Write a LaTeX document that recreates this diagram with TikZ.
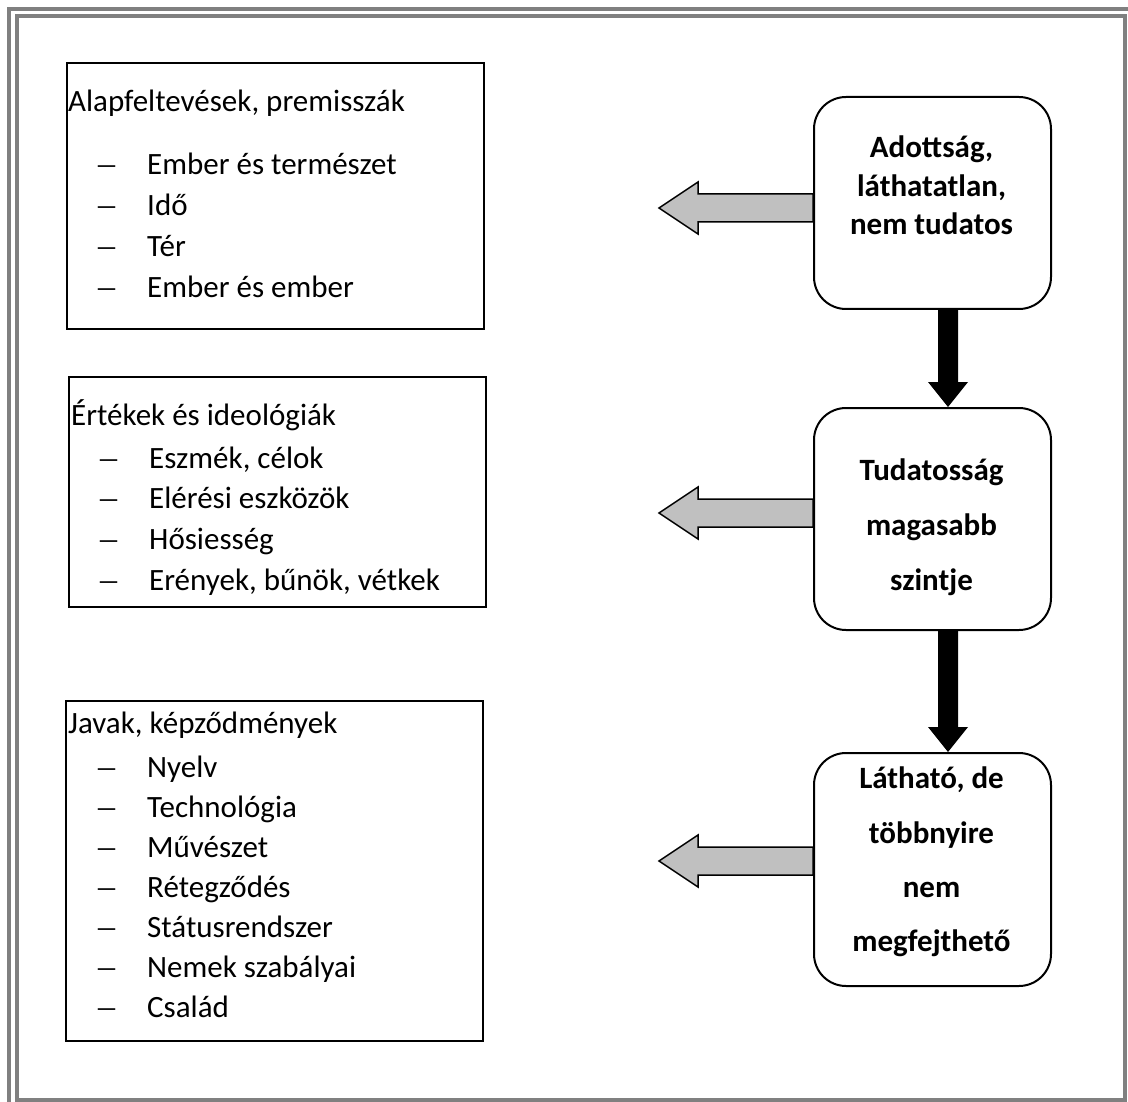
\documentclass[tikz,border=0pt]{standalone}
\usepackage{fontspec}
\setmainfont{Carlito}
\newfontfamily\dashfont{Liberation Serif}
\usetikzlibrary{calc}
\definecolor{framegray}{RGB}{128,128,128}
\definecolor{arrowgray}{RGB}{192,192,192}
\begin{document}
\begin{tikzpicture}[x=1pt,y=-1pt,
  borderline/.style={draw=framegray, line width=4pt},
  listbox/.style={draw, line width=1.6pt, rectangle, anchor=north west, inner sep=0pt, minimum width=417pt},
  levelbox/.style={draw, line width=2pt, rectangle, rounded corners=32pt, anchor=north west, inner sep=0pt, minimum width=237pt},
  head/.style={anchor=base west, inner sep=0pt, font=\fontsize{31}{38}\selectfont},
  item/.style={anchor=base west, inner sep=0pt, font=\fontsize{31}{38}\selectfont},
  bar/.style={anchor=base west, inner sep=0pt, font=\dashfont\fontsize{34}{38}\selectfont},
  btxt/.style={anchor=base, inner sep=0pt, font=\fontsize{31}{38}\selectfont\bfseries},
  hollow/.style={draw, fill=arrowgray, line width=1.5pt, line join=miter},
  downarrow/.style={fill=black}
]
\useasboundingbox (0,0) rectangle (1128,1102);

% double page frame (outer line runs off the right and bottom edges)
\begin{scope}
  \clip (0,0) rectangle (1128,1102);
  \draw[borderline] (8.7,1120) -- (8.7,9) -- (1140,9);
  \draw[borderline] (17,16) rectangle (1124.5,1100);
\end{scope}

% left-hand boxes
\node[listbox, minimum height=266pt] (L1) at (66,62) {};
\node[listbox, minimum height=230pt] (L2) at (68,376) {};
\node[listbox, minimum height=340pt] (L3) at (65,700) {};

% right-hand level boxes
\node[levelbox, minimum height=212pt] (A) at (813,96) {};
\node[levelbox, minimum height=222pt] (B) at (813,407) {};
\node[levelbox, minimum height=233pt] (C) at (813,752) {};

% texts of box L1
\node[head] (h1) at (68,112) {Alapfeltevések, premisszák};
\foreach \t [count=\i] in {Ember és természet, Idő, Tér, Ember és ember}{
  \node[bar] (b1\i) at (98,{175+40.7*(\i-1)}) {–};
  \node[item] (i1\i) at (147,{175+40.7*(\i-1)}) {\t};
}

% texts of box L2
\node[head] (h2) at (71,425) {Értékek és ideológiák};
\foreach \t [count=\i] in {{Eszmék, célok}, Elérési eszközök, Hősiesség, {Erények, bűnök, vétkek}}{
  \node[bar] (b2\i) at (100,{468+40.7*(\i-1)}) {–};
  \node[item] (i2\i) at (149,{468+40.7*(\i-1)}) {\t};
}

% texts of box L3
\node[head] (h3) at (68,733) {Javak, képződmények};
\foreach \t [count=\i] in {Nyelv, Technológia, Művészet, Rétegződés, Státusrendszer, Nemek szabályai, Család}{
  \node[bar] (b3\i) at (98,{777+40*(\i-1)}) {–};
  \node[item] (i3\i) at (147,{777+40*(\i-1)}) {\t};
}

% texts of the level boxes
\node[btxt] (a1) at (931.5,158) {Adottság,};
\node[btxt] (a2) at (931.5,197) {láthatatlan,};
\node[btxt] (a3) at (931.5,235) {nem tudatos};
\node[btxt] (t1) at (931.5,480) {Tudatosság};
\node[btxt] (t2) at (931.5,535) {magasabb};
\node[btxt] (t3) at (931.5,590) {szintje};
\node[btxt] (c1) at (931.5,788) {Látható, de};
\node[btxt] (c2) at (931.5,843) {többnyire};
\node[btxt] (c3) at (931.5,897) {nem};
\node[btxt] (c4) at (931.5,951) {megfejthető};

% grey block arrows pointing left from each level box
\coordinate (gA) at (A.west |- 0,208);
\coordinate (gB) at (B.west |- 0,513);
\coordinate (gC) at (C.west |- 0,861);
\foreach \g in {gA,gB,gC}{
  \draw[hollow] (\g) ++(0,-14) -- ++(-115,0) -- ++(0,-12) -- ++(-39,26)
     -- ++(39,26) -- ++(0,-12) -- ++(115,0) -- cycle;
}

% black block arrows between the level boxes
\coordinate (d1s) at (A.south -| 948,0);
\coordinate (d1e) at (B.north -| 948,0);
\coordinate (d2s) at (B.south -| 948,0);
\coordinate (d2e) at (C.north -| 948,0);
\foreach \s/\e in {d1s/d1e,d2s/d2e}{
  \fill[downarrow] ($(\s)+(-10,0)$) -- ($(\e)+(-10,-25)$) -- ($(\e)+(-20,-25)$)
     -- (\e) -- ($(\e)+(20,-25)$) -- ($(\e)+(10,-25)$) -- ($(\s)+(10,0)$) -- cycle;
}
\end{tikzpicture}
\end{document}
